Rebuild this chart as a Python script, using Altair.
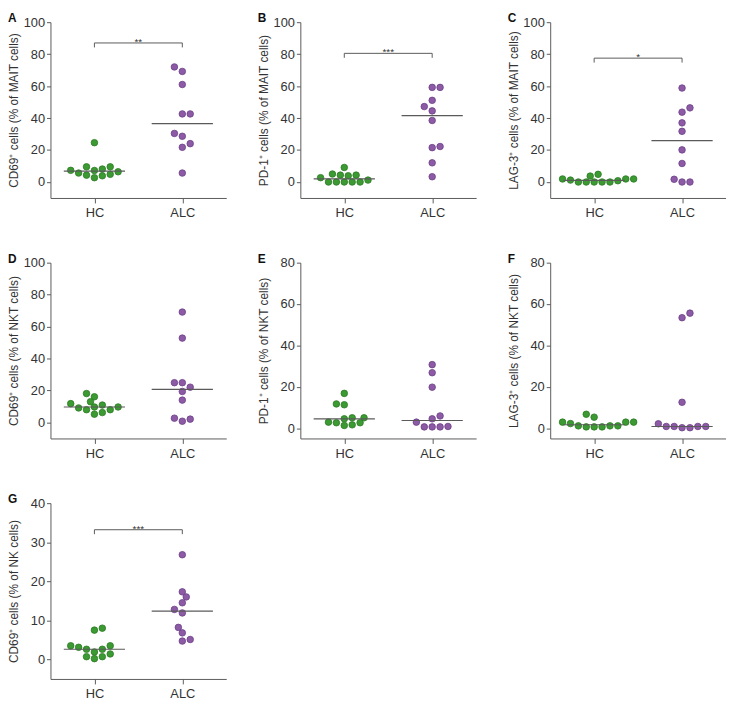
import altair as alt
import pandas as pd
import numpy as np

GROUPS = ["HC", "ALC"]
LETTERS = ["A", "B", "C", "D", "E", "F", "G"]
Y_TITLES = [
    "CD69⁺ cells (% of MAIT cells)",
    "PD-1⁺ cells (% of MAIT cells)",
    "LAG-3⁺ cells (% of MAIT cells)",
    "CD69⁺ cells (% of NKT cells)",
    "PD-1⁺ cells (% of NKT cells)",
    "LAG-3⁺ cells (% of NKT cells)",
    "CD69⁺ cells (% of NK cells)",
]
Y_DOMAINS = [[-10, 100], [-10, 100], [-10, 100], [-10, 100], [-5, 80], [-5, 80], [-5, 40]]
Y_TICKS = [
    [0, 20, 40, 60, 80, 100],
    [0, 20, 40, 60, 80, 100],
    [0, 20, 40, 60, 80, 100],
    [0, 20, 40, 60, 80, 100],
    [0, 20, 40, 60, 80],
    [0, 20, 40, 60, 80],
    [0, 10, 20, 30, 40],
]

HC_A = [24.6, 7.2, 5.6, 4.3, 9.5, 9.5, 8.1, 7.3, 2.7, 3.9, 4.8, 6.4]
ALC_A = [72, 69.2, 61, 42.6, 42.6, 28.6, 30.4, 24, 21.7, 5.6]
HC_B = [9.1, 4.3, 2.7, 3.9, 5.0, 4.3, 0, 0, 0, 0, 0, 1.2]
ALC_B = [59.2, 59.2, 51.1, 44.5, 47.2, 38.5, 21.5, 22.2, 12, 3.3]
HC_C = [3.7, 1.9, 1.9, 1.2, 1.9, 4.8, 0.8, 0, 0, 0, 0, 0]
ALC_C = [58.8, 46.4, 43.7, 37, 31.7, 20.1, 11.6, 1.7, 0, 0]
HC_D = [9.7, 9.1, 11.8, 8.0, 16.1, 10.9, 5.2, 18.1, 13.0, 6.2, 8.0, 9.7]
ALC_D = [69.1, 52.8, 24.9, 24.9, 19.4, 22.1, 14, 2.7, 0.8, 2.1]
HC_E = [16.8, 11.3, 11.7, 2.9, 2.6, 5.0, 5.0, 1.3, 1.6, 2.6, 4.5]
ALC_E = [30.7, 26.8, 19.8, 5.9, 2.9, 0.6, 0.6, 0.6, 0.8, 4.5]
HC_F = [6.7, 5.3, 2.9, 2.2, 2.9, 2.9, 1.1, 0.6, 0.6, 0.6, 1.1, 1.1]
ALC_F = [55.6, 53.4, 12.5, 2.1, 0.8, 0.8, 0.2, 0.2, 0.8, 0.8]
HC_G = [7.5, 8.0, 3.5, 1.9, 2.6, 0.7, 2.6, 0.2, 3.1, 0.7, 3.5, 1.4]
ALC_G = [26.8, 17.3, 16, 14.5, 12.8, 11.9, 8.2, 6.8, 4.7, 5.1]

HC_ALL = [HC_A, HC_B, HC_C, HC_D, HC_E, HC_F, HC_G]
ALC_ALL = [ALC_A, ALC_B, ALC_C, ALC_D, ALC_E, ALC_F, ALC_G]

SIG_Y = [87, 80.5, 77.5, None, None, None, 33.2]
SIG_TEXT = ["**", "***", "*", None, None, None, "***"]

PLOT_W = 178
PLOT_H = 178
FILL = ["#3c9a32", "#8d5ba6"]
EDGE = ["#2b7a24", "#6c3f87"]
AXIS_COLOR = "#5a5a5a"
TEXT_COLOR = "#333333"
FONT = "Liberation Sans"


def swarm(vals, ppu, diam=6.4, step=4.0):
    order = sorted(range(len(vals)), key=lambda i: vals[i])
    placed = []
    off = [0.0] * len(vals)
    for i in order:
        y = vals[i] * ppu
        cands = [0.0]
        bal = sum(p[0] for p in placed)
        for m in range(1, 30):
            if bal > 0:
                cands += [-m * step, m * step]
            else:
                cands += [m * step, -m * step]
        chosen = 0.0
        for c in cands:
            if all((c - px) ** 2 + (y - py) ** 2 >= diam ** 2 - 1e-6 for px, py in placed):
                chosen = c
                break
        placed.append((chosen, y))
        off[i] = chosen
    return off


def panel(k):
    dom = Y_DOMAINS[k]
    ppu = PLOT_H / (dom[1] - dom[0])
    xpu = PLOT_W / 2.0
    rows = []
    meds = []
    for gi, vals in enumerate([HC_ALL[k], ALC_ALL[k]]):
        offs = swarm(vals, ppu)
        for v, o in zip(vals, offs):
            rows.append({"x": gi + o / xpu, "v": v, "g": GROUPS[gi]})
        m = float(np.median(vals))
        meds.append({"x": gi - 31 / xpu, "x2": gi + 31 / xpu, "v": m})
    df = pd.DataFrame(rows)
    dmed = pd.DataFrame(meds)

    xscale = alt.Scale(domain=[-0.5, 1.5], nice=False, zero=False)
    yscale = alt.Scale(domain=dom, nice=False, zero=False)
    xaxis = alt.Axis(values=[0, 1], labelExpr="datum.value == 0 ? 'HC' : 'ALC'",
                     title=None, grid=False, tickSize=5, labelPadding=4,
                     labelOverlap=False)
    yaxis = alt.Axis(values=Y_TICKS[k], title=Y_TITLES[k], grid=False,
                     tickSize=4, labelPadding=2, minExtent=28, maxExtent=28,
                     titlePadding=2, labelOverlap=False, labelBound=False,
                     labelFlush=False)

    def X(f):
        return alt.X(f, scale=xscale, axis=xaxis)

    def Y(f):
        return alt.Y(f, scale=yscale, axis=yaxis)

    pts = alt.Chart(df).mark_circle(size=44, opacity=1, strokeWidth=0.8).encode(
        x=X("x:Q"), y=Y("v:Q"),
        color=alt.Color("g:N", scale=alt.Scale(domain=GROUPS, range=FILL), legend=None),
        stroke=alt.Stroke("g:N", scale=alt.Scale(domain=GROUPS, range=EDGE), legend=None),
    )
    med = alt.Chart(dmed).mark_rule(color=AXIS_COLOR, strokeWidth=1.2).encode(
        x=X("x:Q"), x2="x2:Q", y=Y("v:Q"),
    )
    layers = [pts, med]
    if SIG_Y[k] is not None:
        top = SIG_Y[k]
        drop = 4.5 / ppu
        dsig = pd.DataFrame([
            {"x": 0, "x2": 1, "v": top, "v2": top},
            {"x": 0, "x2": 0, "v": top, "v2": top - drop},
            {"x": 1, "x2": 1, "v": top, "v2": top - drop},
        ])
        br = alt.Chart(dsig).mark_rule(color=AXIS_COLOR, strokeWidth=1).encode(
            x=X("x:Q"), x2="x2:Q", y=Y("v:Q"), y2="v2:Q",
        )
        dtxt = pd.DataFrame([{"x": 0.5, "v": top, "t": SIG_TEXT[k]}])
        tx = alt.Chart(dtxt).mark_text(fontSize=10, baseline="alphabetic", dy=2,
                                       color=TEXT_COLOR, font=FONT).encode(
            x=X("x:Q"), y=Y("v:Q"), text="t:N",
        )
        layers += [br, tx]
    return alt.layer(*layers).properties(
        width=PLOT_W, height=PLOT_H,
        title=alt.Title(LETTERS[k], anchor="start", frame="bounds", fontSize=12,
                        fontWeight="bold", font=FONT, color="#111111", offset=-9),
    )


row1 = alt.hconcat(panel(0), panel(1), panel(2), spacing=32)
row2 = alt.hconcat(panel(3), panel(4), panel(5), spacing=32)
row3 = alt.hconcat(panel(6), spacing=32)

chart = alt.vconcat(row1, row2, row3, spacing=33.5).properties(
    padding={"left": 0, "top": 0, "right": 0, "bottom": 0}
).configure_view(stroke=None).configure_axis(
    domainColor=AXIS_COLOR, tickColor=AXIS_COLOR, labelColor=TEXT_COLOR,
    titleColor=TEXT_COLOR, labelFont=FONT, titleFont=FONT, labelFontSize=13,
    titleFontSize=12, titleFontWeight="normal", domainWidth=1, tickWidth=1,
)

chart.save("out.html", embed_options={"renderer": "svg", "actions": False})
